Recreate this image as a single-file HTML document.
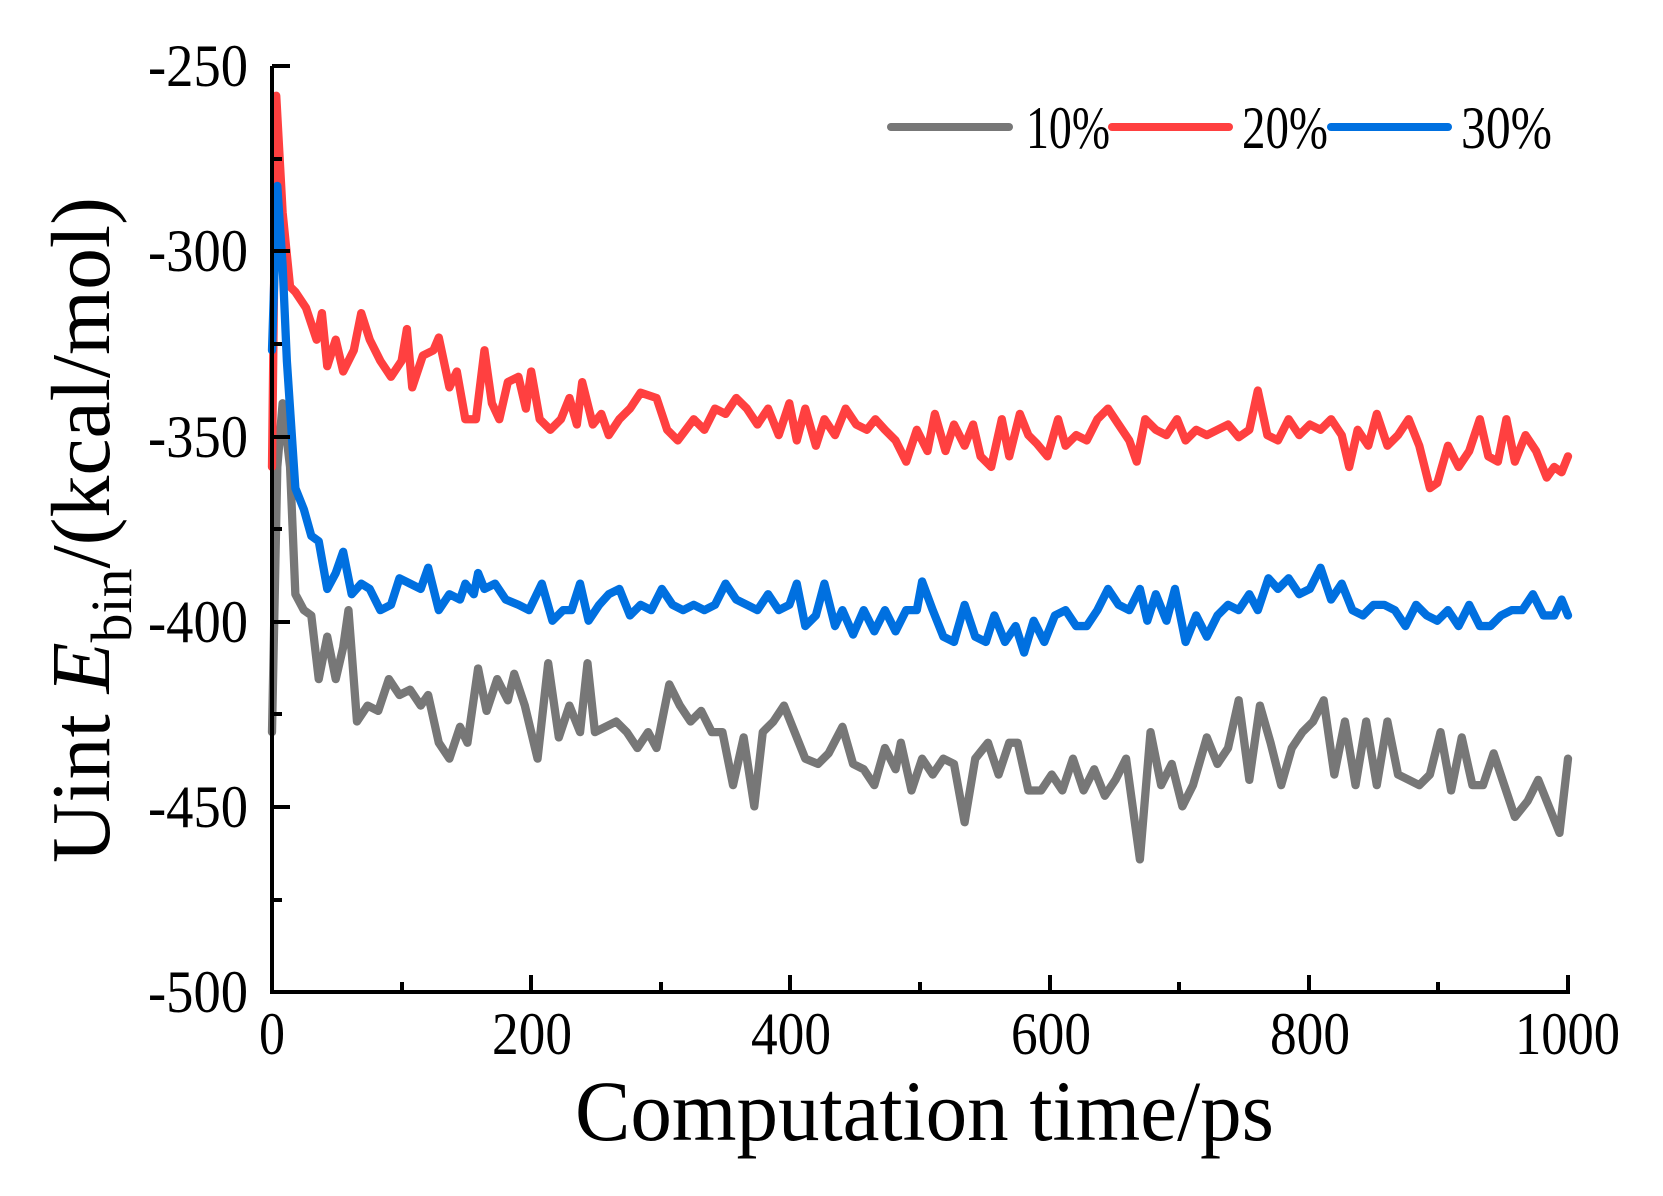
<!DOCTYPE html>
<html><head><meta charset="utf-8"><style>
html,body{margin:0;padding:0;background:#fff;}
svg{display:block;}
text{font-family:"Liberation Serif",serif;fill:#000;}
</style></head><body>
<svg width="1663" height="1196" viewBox="0 0 1663 1196" xmlns="http://www.w3.org/2000/svg">
<g transform="matrix(1.0623,0,0,1.0607,-2.08,0.24)" fill="none" stroke-width="7.8" stroke-linejoin="round" stroke-linecap="round">
<polyline stroke="#777777" points="258,690 263,440 268,380 275,440 280,560 288,575 295,580 302,640 310,600 318,640 325,610 330,575 338,680 348,665 358,670 368,640 378,655 388,650 398,665 405,655 415,700 425,715 435,685 442,700 452,630 460,670 470,640 480,660 486,635 496,665 508,715 518,625 528,695 538,665 548,690 555,625 562,690 572,685 582,680 592,690 602,705 612,690 620,705 632,645 642,665 652,680 662,670 672,690 682,690 692,740 702,695 712,760 720,690 730,680 740,665 750,690 760,715 772,720 782,710 795,685 805,720 815,725 825,740 835,705 845,725 850,700 860,745 870,715 880,730 890,715 900,720 910,775 920,715 932,700 942,730 952,700 960,700 970,745 982,745 992,730 1002,745 1012,715 1022,745 1032,725 1042,750 1052,735 1062,715 1075,810 1085,690 1095,740 1105,720 1115,760 1125,740 1138,695 1148,720 1158,705 1168,660 1178,735 1188,665 1198,700 1208,740 1218,705 1228,690 1238,680 1248,660 1258,730 1268,680 1278,740 1288,680 1298,740 1308,680 1318,730 1328,735 1338,740 1348,730 1358,690 1368,745 1378,695 1388,740 1398,740 1408,710 1418,740 1428,770 1440,755 1450,735 1460,760 1470,785 1478,715"/>
<polyline stroke="#ff4040" points="258,440 262,90 268,200 275,270 280,275 290,290 300,320 305,295 310,345 318,320 325,350 335,330 342,295 350,320 360,340 370,355 380,340 385,310 390,365 400,335 410,330 415,318 425,365 432,350 440,395 450,395 458,330 465,380 472,395 480,360 490,355 497,385 502,350 510,395 520,405 530,395 538,375 545,400 550,360 560,400 568,390 575,410 585,395 595,385 605,370 620,375 630,405 640,415 655,395 665,405 675,385 685,390 695,375 705,385 715,400 725,385 735,410 745,380 752,415 760,385 770,420 778,395 788,410 798,385 808,400 818,405 826,395 835,405 845,415 855,435 865,405 875,425 882,390 892,425 900,400 910,420 918,400 925,430 935,440 945,395 952,430 962,390 970,410 978,418 988,430 998,395 1005,420 1015,410 1025,415 1035,395 1045,385 1055,400 1065,415 1072,435 1080,395 1090,405 1100,410 1110,395 1118,415 1128,405 1138,410 1148,405 1158,400 1168,412 1178,405 1186,368 1195,410 1205,415 1215,395 1225,410 1235,400 1245,405 1255,395 1265,410 1272,440 1280,405 1290,420 1298,390 1308,420 1318,410 1328,395 1338,420 1348,460 1355,455 1365,420 1375,440 1385,425 1395,395 1403,430 1412,435 1420,395 1428,435 1438,410 1448,425 1458,450 1465,440 1472,445 1478,430"/>
<polyline stroke="#0070e0" points="258,330 263,175 268,250 272,340 280,460 288,480 295,505 302,510 310,555 318,540 325,520 333,560 342,550 350,555 360,575 370,570 378,545 388,550 398,555 405,535 415,575 425,560 435,565 440,550 448,560 452,540 458,555 468,550 478,565 490,570 500,575 512,550 522,585 532,575 540,575 548,550 556,585 566,570 575,560 585,555 595,580 605,570 615,575 625,555 635,570 645,575 655,570 665,575 675,570 685,550 695,565 705,570 715,575 725,560 735,575 745,570 752,550 760,590 770,580 778,550 788,590 795,575 805,598 815,575 825,595 835,575 845,595 855,575 865,575 870,548 880,575 890,600 900,605 910,570 920,600 930,605 938,580 948,605 958,590 966,615 975,585 985,605 995,580 1005,575 1015,590 1025,590 1035,575 1045,555 1055,570 1065,575 1075,555 1082,585 1090,560 1100,585 1108,555 1118,605 1128,580 1138,600 1148,580 1158,570 1168,575 1178,560 1186,575 1196,545 1205,555 1215,545 1225,560 1235,555 1245,535 1255,565 1265,550 1275,575 1285,580 1295,570 1305,570 1315,575 1325,590 1335,570 1345,580 1355,585 1365,575 1375,590 1385,570 1395,590 1405,590 1415,580 1425,575 1435,575 1445,560 1455,580 1465,580 1472,565 1478,580"/>
</g>
<!-- axes -->
<g stroke="#000" stroke-width="4" fill="none">
<polyline points="272,66 272,992 1568,992 1568,975"/>
<line x1="272" y1="66" x2="290" y2="66"/>
<line x1="272" y1="159" x2="282" y2="159"/>
<line x1="272" y1="251" x2="290" y2="251"/>
<line x1="272" y1="344" x2="282" y2="344"/>
<line x1="272" y1="437" x2="290" y2="437"/>
<line x1="272" y1="529" x2="282" y2="529"/>
<line x1="272" y1="622" x2="290" y2="622"/>
<line x1="272" y1="714" x2="282" y2="714"/>
<line x1="272" y1="807" x2="290" y2="807"/>
<line x1="272" y1="900" x2="282" y2="900"/>
<line x1="402" y1="992" x2="402" y2="982"/>
<line x1="531" y1="992" x2="531" y2="975"/>
<line x1="661" y1="992" x2="661" y2="982"/>
<line x1="790" y1="992" x2="790" y2="975"/>
<line x1="920" y1="992" x2="920" y2="982"/>
<line x1="1050" y1="992" x2="1050" y2="975"/>
<line x1="1179" y1="992" x2="1179" y2="982"/>
<line x1="1309" y1="992" x2="1309" y2="975"/>
<line x1="1438" y1="992" x2="1438" y2="982"/>
</g>
<g font-size="60">
<text x="148" y="86" textLength="100" lengthAdjust="spacingAndGlyphs">-250</text>
<text x="148" y="271" textLength="100" lengthAdjust="spacingAndGlyphs">-300</text>
<text x="148" y="457" textLength="100" lengthAdjust="spacingAndGlyphs">-350</text>
<text x="148" y="642" textLength="100" lengthAdjust="spacingAndGlyphs">-400</text>
<text x="148" y="827" textLength="100" lengthAdjust="spacingAndGlyphs">-450</text>
<text x="148" y="1012" textLength="100" lengthAdjust="spacingAndGlyphs">-500</text>
<text x="259" y="1054" textLength="26" lengthAdjust="spacingAndGlyphs">0</text>
<text x="492" y="1054" textLength="80" lengthAdjust="spacingAndGlyphs">200</text>
<text x="751" y="1054" textLength="80" lengthAdjust="spacingAndGlyphs">400</text>
<text x="1011" y="1054" textLength="80" lengthAdjust="spacingAndGlyphs">600</text>
<text x="1270" y="1054" textLength="80" lengthAdjust="spacingAndGlyphs">800</text>
<text x="1515" y="1054" textLength="105" lengthAdjust="spacingAndGlyphs">1000</text>
</g>
<text x="575" y="1140" font-size="86" textLength="699" lengthAdjust="spacingAndGlyphs">Computation time/ps</text>
<g transform="translate(109,863) rotate(-90)">
<text x="0" y="0" font-size="84" textLength="666" lengthAdjust="spacingAndGlyphs">Uint <tspan font-style="italic">E</tspan><tspan font-size="58" dy="22">bin</tspan><tspan dy="-22">/(kcal/mol)</tspan></text>
</g>
<!-- legend -->
<g stroke-width="8" stroke-linecap="round">
<line x1="891" y1="127" x2="1009" y2="127" stroke="#777777"/>
<line x1="1112" y1="127" x2="1229" y2="127" stroke="#ff4040"/>
<line x1="1331" y1="127" x2="1448" y2="127" stroke="#0070e0"/>
</g>
<g font-size="60">
<text x="1026" y="148" textLength="84" lengthAdjust="spacingAndGlyphs">10%</text>
<text x="1242" y="148" textLength="86" lengthAdjust="spacingAndGlyphs">20%</text>
<text x="1461" y="148" textLength="91" lengthAdjust="spacingAndGlyphs">30%</text>
</g>
</svg>
</body></html>
